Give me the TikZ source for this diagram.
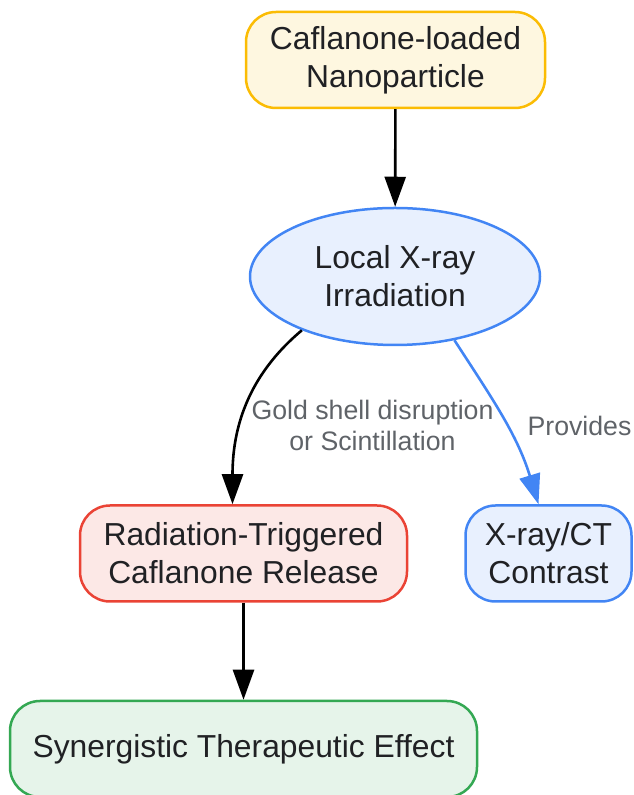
\documentclass[tikz,border=0pt]{standalone}
\usepackage{fontspec}
\setmainfont{Liberation Sans}
\usetikzlibrary{arrows.meta,shapes.geometric}

\definecolor{ink}{HTML}{202124}
\definecolor{note}{HTML}{5F6368}
\definecolor{goldline}{HTML}{FBBC04}
\definecolor{goldfill}{HTML}{FEF7E0}
\definecolor{blueline}{HTML}{4285F4}
\definecolor{bluefill}{HTML}{E8F0FE}
\definecolor{redline}{HTML}{EA4335}
\definecolor{redfill}{HTML}{FCE8E6}
\definecolor{greenline}{HTML}{34A853}
\definecolor{greenfill}{HTML}{E6F4EA}

\begin{document}
\begin{tikzpicture}[x=1pt,y=1pt,
  box/.style={draw, rounded corners=30pt, line width=2.5pt, minimum height=96pt,
    align=center, text=ink, font=\fontsize{31.8}{38}\selectfont},
  blob/.style={ellipse, draw=blueline, fill=bluefill, line width=2.5pt,
    align=center, text=ink, font=\fontsize{31.8}{38}\selectfont},
  arr/.style={line width=2.6pt, -{Triangle[length=30pt,width=21pt]}},
  lbl/.style={align=center, text=note, font=\fontsize{26.7}{31}\selectfont}]
\useasboundingbox (0,0) rectangle (633,795);
% nodes
\node[box, draw=goldline, fill=goldfill, minimum width=299pt] (np) at (395.5,735) {Caflanone-loaded\\Nanoparticle};
\node[blob, minimum width=290pt, minimum height=137pt] (irr) at (395,518.5) {Local X-ray\\Irradiation};
\node[box, draw=redline, fill=redfill, minimum width=327pt] (rel) at (243.5,241.5) {Radiation-Triggered\\Caflanone Release};
\node[box, draw=blueline, fill=bluefill, minimum width=166pt] (ct) at (548.5,241.5) {X-ray/CT\\Contrast};
\node[box, draw=greenline, fill=greenfill, minimum width=467pt] (eff) at (243.5,46) {Synergistic Therapeutic Effect};
% connectors
\draw[arr] (np) -- (irr);
\draw[arr] (irr.210) to[out=-140,in=90] ([xshift=-11pt]rel.north);
\draw[arr, blueline] (irr.313) to[out=-57,in=107] ([xshift=-10pt]ct.north);
\draw[arr] (rel) -- (eff);
% labels
\node[lbl] (why) at (372.5,369.5) {Gold shell disruption\\or Scintillation};
\node[lbl] (gives) at (579.5,369) {Provides};
\end{tikzpicture}
\end{document}
